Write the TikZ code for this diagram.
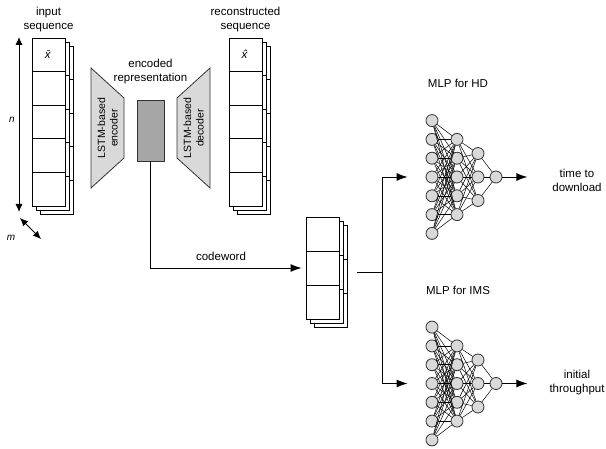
\documentclass[tikz,border=0pt]{standalone}
\usepackage{fontspec}
\setmainfont{Liberation Sans}
\usetikzlibrary{arrows.meta,positioning}
\definecolor{codergray}{HTML}{D9D9D9}
\definecolor{repgray}{HTML}{A6A6A6}
\definecolor{linegray}{HTML}{333333}

\begin{document}
\begin{tikzpicture}[
  x=1pt, y=-1pt,
  font=\fontsize{11.5}{14}\selectfont,
  cell/.style={draw, fill=white, line width=0.9pt, minimum width=33pt, minimum height=#1, inner sep=0pt},
  coder/.style={draw=linegray, fill=codergray, line width=0.8pt},
  vtext/.style={rotate=90, align=center, font=\fontsize{10.5}{12.5}\selectfont},
  neuron/.style={circle, draw=linegray, fill=codergray, line width=0.8pt, minimum size=12pt, inner sep=0pt},
  link/.style={line width=0.5pt},
  arrow/.style={-{Latex[length=11pt, width=8pt]}, line width=0.9pt},
  dimarrow/.style={{Latex[length=8pt, width=7pt]}-{Latex[length=8pt, width=7pt]}, line width=0.9pt}
]
\useasboundingbox (0,0) rectangle (606,449);

% input sequence
\foreach \l in {2,1,0}
  \foreach \i in {1,...,5}
    \node[cell=33.6pt] (in-\l-\i) at ({48.5+4*\l}, {54.8+33.6*(\i-1)+4*\l}) {};
\node (xbar) at (in-0-1) {\textit{\=x}};
\node[align=center, above=2pt of in-0-1] (in-lbl) {input\\sequence};
\coordinate (n-top) at (19,37);
\coordinate (n-bot) at (19,212);
\draw[dimarrow] (n-top) -- (n-bot);
\node[font=\itshape] (n-lbl) at (12,120) {n};
\coordinate (m-a) at (20,218);
\coordinate (m-b) at (41,239);
\draw[dimarrow] (m-a) -- (m-b);
\node[font=\itshape] (m-lbl) at (11,238) {m};

% encoder / representation / decoder
\draw[coder] (91,68) -- (124,98) -- (124,158) -- (91,188) -- cycle;
\node[vtext] (enc) at (107.5,128) {LSTM-based\\encoder};
\node[draw=linegray, fill=repgray, line width=0.8pt, minimum width=27pt, minimum height=61pt] (rep) at (150.5,130.5) {};
\node[align=center, above=12pt of rep] (rep-lbl) {encoded\\representation};
\draw[coder] (210,68) -- (177,98) -- (177,158) -- (210,188) -- cycle;
\node[vtext] (dec) at (193.5,128) {LSTM-based\\decoder};

% reconstructed sequence
\foreach \l in {2,1,0}
  \foreach \i in {1,...,5}
    \node[cell=33.6pt] (out-\l-\i) at ({245.5+4*\l}, {54.8+33.6*(\i-1)+4*\l}) {};
\node (xhat) at (out-0-1) {\textit{\^x}};
\node[align=center, above=2pt of out-0-1] (out-lbl) {reconstructed\\sequence};

% codeword
\foreach \l in {2,1,0}
  \foreach \i in {1,2,3}
    \node[cell=34pt] (cw-\l-\i) at ({322.5+4*\l}, {234+34*(\i-1)+4*\l}) {};
\draw[arrow, shorten >=4pt] (rep) |- (cw-0-2);
\node (cw-lbl) at (221,256) {codeword};
\coordinate (fork) at (382,272);
\draw[line width=0.9pt] ([shift={(18,4)}]cw-0-2.east) -- (fork);

% MLPs
\foreach \net/\cy in {hd/177, ims/383.5} {
  \foreach \i in {1,...,7}
    \node[neuron] (\net-1-\i) at (432, {\cy+18.8*(\i-4)}) {};
  \foreach \i in {1,...,5}
    \node[neuron] (\net-2-\i) at (457, {\cy+18.8*(\i-3)}) {};
  \foreach \i in {1,2,3}
    \node[neuron] (\net-3-\i) at (478, {\cy+23.5*(\i-2)}) {};
  \node[neuron] (\net-4-1) at (496, \cy) {};
  \foreach \a in {1,...,7}
    \foreach \b in {1,...,5}
      \draw[link] (\net-1-\a) -- (\net-2-\b);
  \foreach \a in {1,...,5}
    \foreach \b in {1,2,3}
      \draw[link] (\net-2-\a) -- (\net-3-\b);
  \foreach \a in {1,2,3}
    \draw[link] (\net-3-\a) -- (\net-4-1);
  \draw[arrow] (\net-4-1) -- ([xshift=25pt]\net-4-1.east);
  \draw[arrow] (fork) |- ([xshift=-18pt]\net-1-4.west);
}
\node (hd-lbl) at (458,83) {MLP for HD};
\node (ims-lbl) at (458,290) {MLP for IMS};
\node[align=center] (hd-out) at (577,180) {time to\\download};
\node[align=center] (ims-out) at (577,383) {initial\\throughput};
\end{tikzpicture}
\end{document}
